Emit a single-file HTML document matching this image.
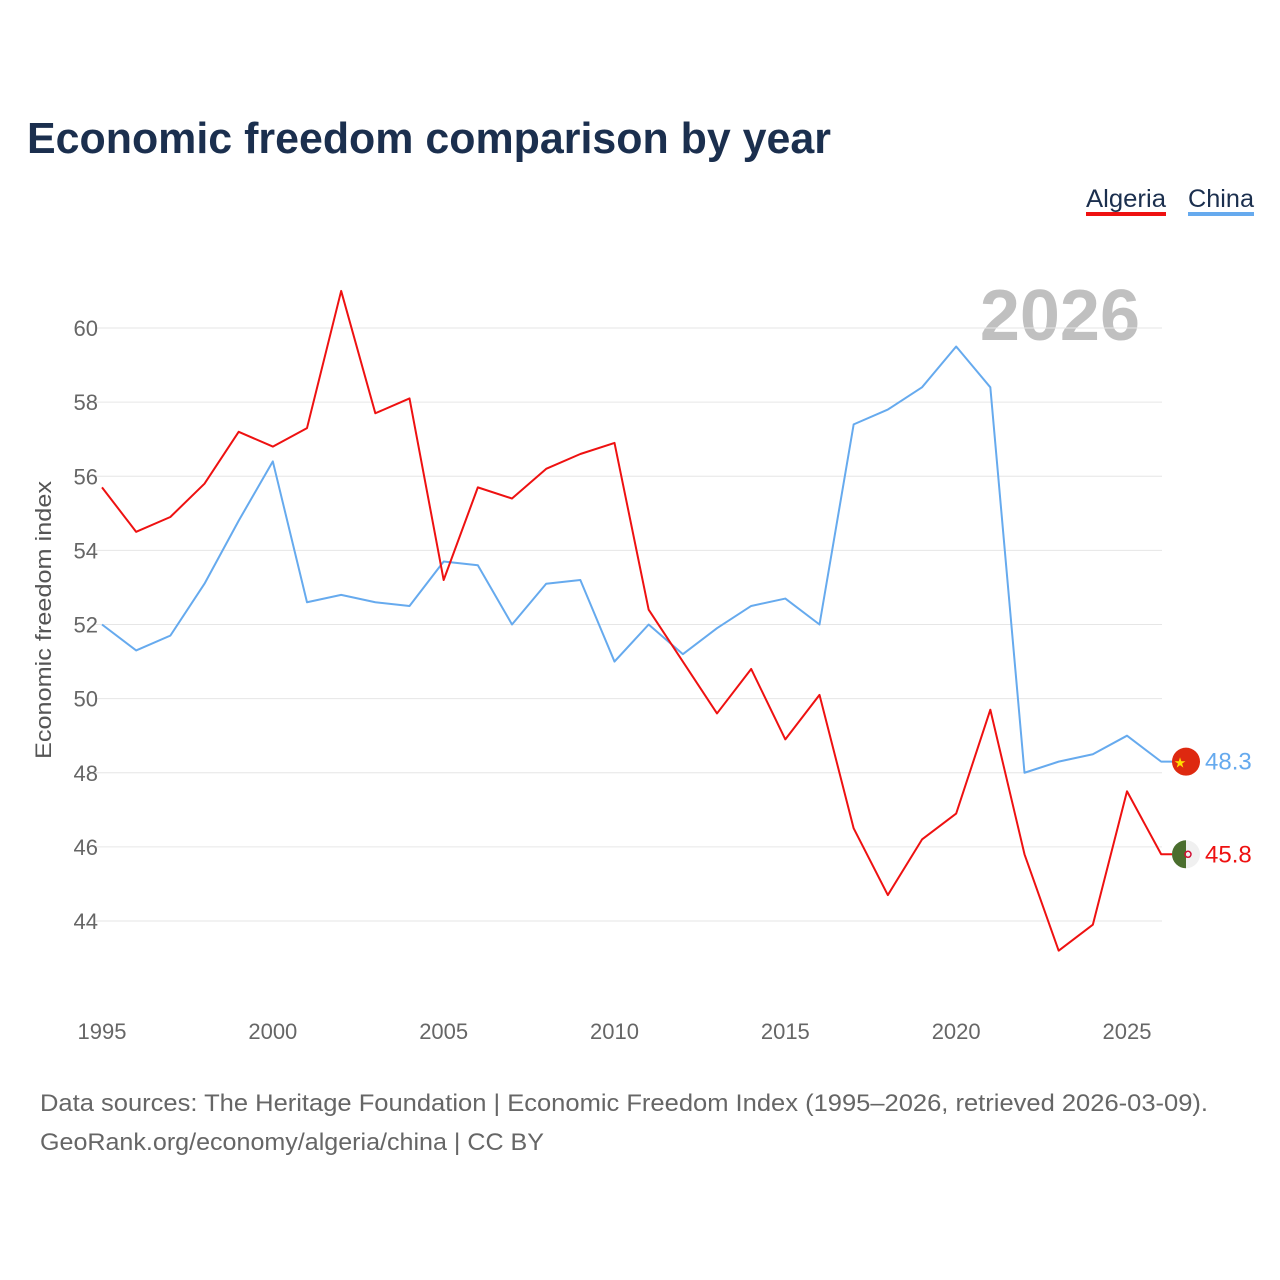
<!DOCTYPE html>
<html><head><meta charset="utf-8"><style>
body{margin:0;background:#fff;font-family:"Liberation Sans",sans-serif}
#wrap{position:relative;width:1280px;height:1280px;overflow:hidden}
</style></head><body>
<div id="wrap">
<svg id="chart" width="1280" height="1280">
<text x="27" y="153" font-size="44" font-weight="bold" fill="#1b2f4e" textLength="804" lengthAdjust="spacingAndGlyphs">Economic freedom comparison by year</text>
<g><text x="1086" y="207" font-size="25" fill="#1b2f4e" textLength="80" lengthAdjust="spacingAndGlyphs">Algeria</text><rect x="1086" y="212" width="80" height="4" fill="#ee1111"/></g>
<g><text x="1188" y="207" font-size="25" fill="#1b2f4e" textLength="66" lengthAdjust="spacingAndGlyphs">China</text><rect x="1188" y="212" width="66" height="4" fill="#66aaee"/></g>
<text x="1140" y="340" font-size="72" font-weight="bold" fill="#c0c0c0" text-anchor="end">2026</text>
<text transform="translate(51,620) rotate(-90)" font-size="22" fill="#555" text-anchor="middle" textLength="278" lengthAdjust="spacingAndGlyphs">Economic freedom index</text>
<g id="grid"></g><g id="xt"></g><g id="lines"></g>
<text x="40" y="1111" font-size="24" fill="#666" textLength="1168" lengthAdjust="spacingAndGlyphs">Data sources: The Heritage Foundation | Economic Freedom Index (1995–2026, retrieved 2026-03-09).</text>
<text x="40" y="1150" font-size="24" fill="#666" textLength="504" lengthAdjust="spacingAndGlyphs">GeoRank.org/economy/algeria/china | CC BY</text>
</svg>
</div>
<script>
const years=[1995,1996,1997,1998,1999,2000,2001,2002,2003,2004,2005,2006,2007,2008,2009,2010,2011,2012,2013,2014,2015,2016,2017,2018,2019,2020,2021,2022,2023,2024,2025,2026];
const algeria=[55.7,54.5,54.9,55.8,57.2,56.8,57.3,61.0,57.7,58.1,53.2,55.7,55.4,56.2,56.6,56.9,52.4,51.0,49.6,50.8,48.9,50.1,46.5,44.7,46.2,46.9,49.7,45.8,43.2,43.9,47.5,45.8];
const china=[52.0,51.3,51.7,53.1,54.8,56.4,52.6,52.8,52.6,52.5,53.7,53.6,52.0,53.1,53.2,51.0,52.0,51.2,51.9,52.5,52.7,52.0,57.4,57.8,58.4,59.5,58.4,48.0,48.3,48.5,49.0,48.3];
const yTicks=[44,46,48,50,52,54,56,58,60];
const xTicks=[1995,2000,2005,2010,2015,2020,2025];
const NS="http://www.w3.org/2000/svg";
const X=y=>102+(y-1995)*(1127-102)/30;
const Y=v=>328+(60-v)*(921-328)/16;
function mk(t,a,p){const e=document.createElementNS(NS,t);for(const k in a)e.setAttribute(k,a[k]);p.appendChild(e);return e;}
const grid=document.getElementById('grid');
yTicks.forEach(v=>{
 const l=mk('line',{x1:95,x2:1162,y1:Y(v),y2:Y(v),stroke:'#e6e6e6','stroke-width':1},grid);
 
 
 const t=mk('text',{x:98,y:Y(v)+8,'font-size':22,fill:'#666','text-anchor':'end'},grid);t.textContent=v;
 
 
});
const xt=document.getElementById('xt');
xTicks.forEach(v=>{
 const t=mk('text',{x:X(v),y:1039,'font-size':22,fill:'#666','text-anchor':'middle'},xt);t.textContent=v;
 
 
});
const lines=document.getElementById('lines');
function series(d,c,name){
 const last=d[d.length-1],y=Y(last);
 const pts=d.map((v,i)=>X(years[i])+','+Y(v));
 pts.push('1174,'+y);
 const p=mk('polyline',{points:pts.join(' '),fill:'none',stroke:c,'stroke-width':2,'stroke-linejoin':'round'},lines);
 
 
 const f=mk('circle',{cx:1186,cy:y,r:14,fill:name==='china'?'#de2910':'#f0f0f0'},lines);
 
 
 if(name==='algeria'){mk('path',{d:`M1186 ${y-14} A14 14 0 0 0 1186 ${y+14} Z`,fill:'#4a6e2e'},lines);mk('circle',{cx:1188,cy:y,r:3,fill:'none',stroke:'#d21034','stroke-width':1.5},lines);}
 else{const s=mk('text',{x:1180,y:y+6,'font-size':14,fill:'#ffde00','text-anchor':'middle'},lines);s.textContent='★';}
 const t=mk('text',{x:1205,y:y+8,'font-size':24,fill:c},lines);t.textContent=last.toFixed(1);
 
 
}
series(china,'#66aaee','china');
series(algeria,'#ee1111','algeria');
</script>
</body></html>
